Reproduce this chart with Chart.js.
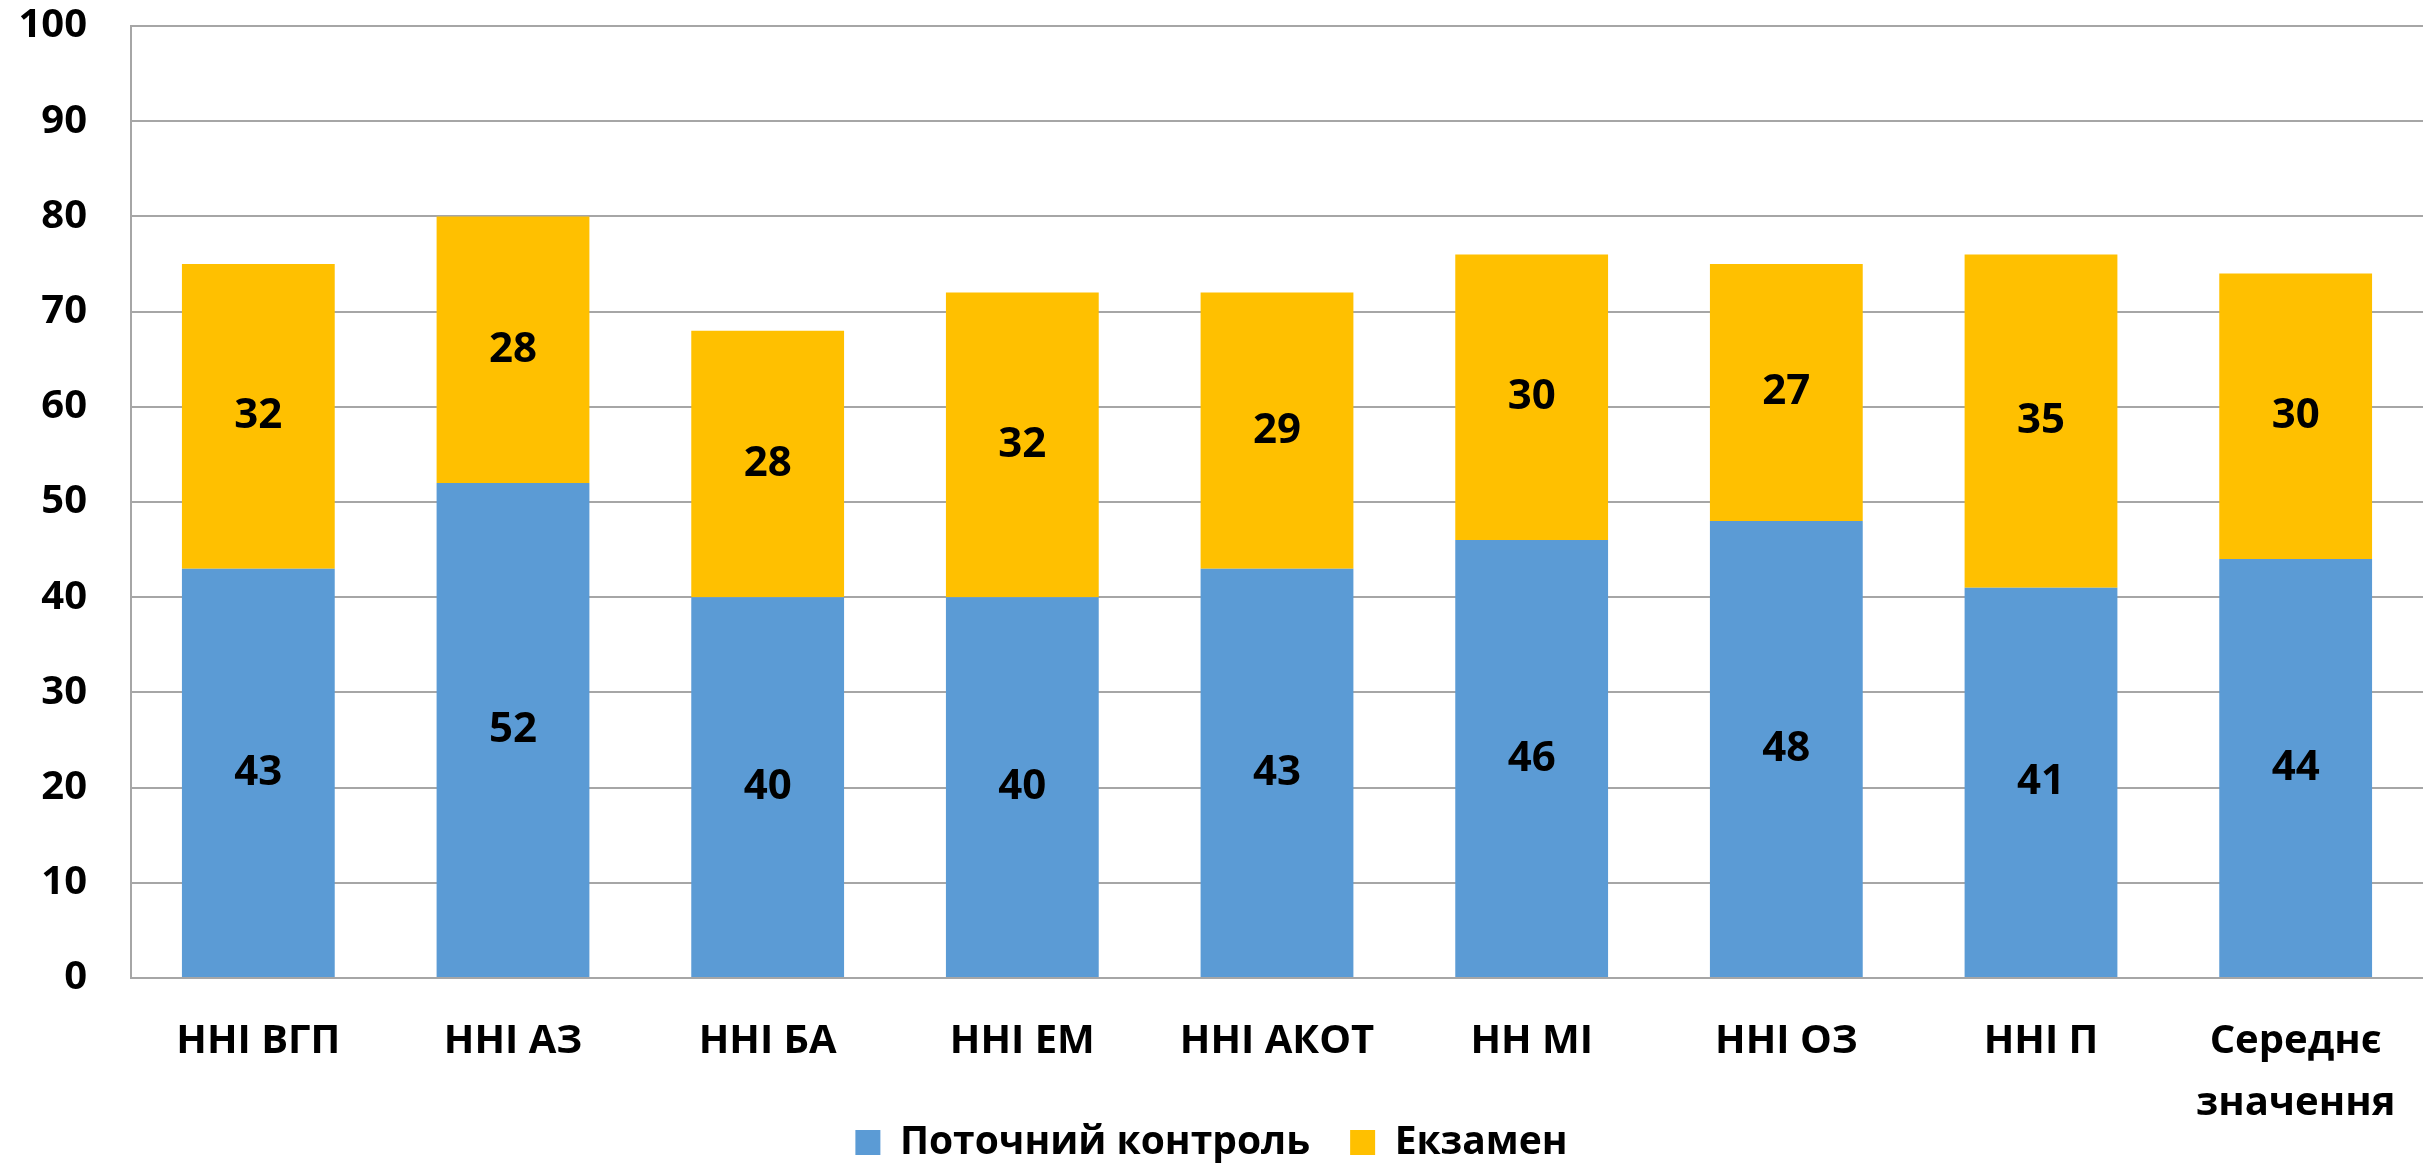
<!DOCTYPE html>
<html>
<head>
<meta charset="utf-8">
<script src="https://cdn.jsdelivr.net/npm/chart.js@4"></script>
<style>
  html, body { margin: 0; padding: 0; background: #fff; }
</style>
</head>
<body>
<canvas id="chart" width="2423" height="1164"></canvas>
<script>
const categories = ['ННІ ВГП', 'ННІ АЗ', 'ННІ БА', 'ННІ ЕМ', 'ННІ АКОТ', 'НН МІ', 'ННІ ОЗ', 'ННІ П', ['Середнє', 'значення']];
const currentControl = [43, 52, 40, 40, 43, 46, 48, 41, 44];
const exam = [32, 28, 28, 32, 29, 30, 27, 35, 30];
const seriesNames = ['Поточний контроль', 'Екзамен'];

const FONT = "'Open Sans', sans-serif";

// writes each segment's value in the middle of its bar
const segmentLabels = {
  id: 'segmentLabels',
  afterDatasetsDraw(chart) {
    const ctx = chart.ctx;
    ctx.save();
    ctx.font = `bold 42px ${FONT}`;
    ctx.fillStyle = '#000';
    ctx.textAlign = 'center';
    ctx.textBaseline = 'middle';
    chart.data.datasets.forEach((ds, i) => {
      chart.getDatasetMeta(i).data.forEach((bar, j) => {
        const { x, y, base } = bar.getProps(['x', 'y', 'base'], true);
        ctx.fillText(String(ds.data[j]), x, (y + base) / 2);
      });
    });
    ctx.restore();
  }
};

// the x axis is kept short so the legend sits close to it; let its
// two-line label run past the axis box instead of being clipped
const unclipCategoryLabels = {
  id: 'unclipCategoryLabels',
  afterLayout(chart) {
    chart.scales.x.bottom = chart.height;
  }
};

new Chart(document.getElementById('chart'), {
  type: 'bar',
  data: {
    labels: categories,
    datasets: [
      { label: seriesNames[0], data: currentControl, backgroundColor: '#5B9BD5' },
      { label: seriesNames[1], data: exam, backgroundColor: '#FFC000' }
    ]
  },
  options: {
    responsive: false,
    animation: false,
    layout: { padding: { top: 26, right: 0, left: 0, bottom: -8 } },
    datasets: { bar: { categoryPercentage: 1, barPercentage: 0.6 } },
    plugins: {
      tooltip: { enabled: false },
      legend: {
        position: 'bottom',
        labels: {
          font: { family: FONT, size: 39, weight: 'bold' },
          color: '#000',
          boxWidth: 25,
          boxHeight: 25,
          padding: 40
        }
      }
    },
    scales: {
      x: {
        stacked: true,
        afterFit(scale) {
          scale.height = 105;
          scale.paddingLeft = 0;
          scale.paddingRight = 0;
        },
        grid: { display: false, drawTicks: false },
        border: { color: '#A6A6A6', width: 2 },
        ticks: {
          color: '#000',
          padding: 33,
          maxRotation: 0,
          autoSkip: false,
          font: { family: FONT, size: 40, weight: 'bold', lineHeight: 1.55 }
        }
      },
      y: {
        stacked: true,
        min: 0,
        max: 100,
        afterFit(scale) {
          scale.width = 131;
          scale.paddingTop = 0;
          scale.paddingBottom = 0;
        },
        grid: { color: '#A6A6A6', lineWidth: 2, drawTicks: false },
        border: { color: '#A6A6A6', width: 2 },
        ticks: {
          stepSize: 10,
          color: '#000',
          padding: 44,
          font: { family: FONT, size: 40, weight: 'bold' }
        }
      }
    }
  },
  plugins: [segmentLabels, unclipCategoryLabels]
});
</script>
</body>
</html>
